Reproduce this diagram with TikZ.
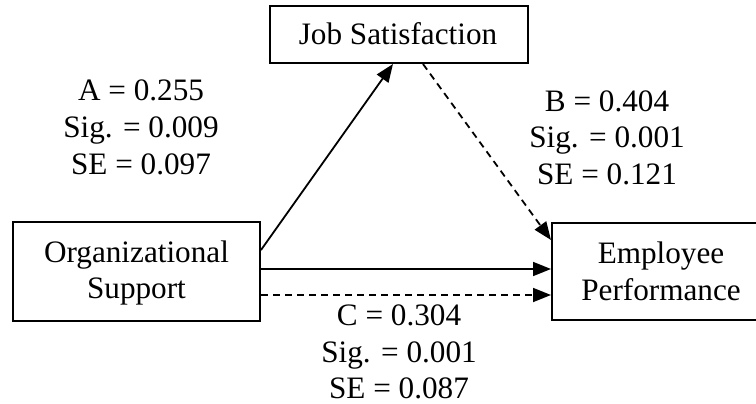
\documentclass[tikz,border=0pt]{standalone}
\usepackage{fontspec}
\setmainfont{Liberation Serif}
\usetikzlibrary{arrows.meta}
\begin{document}
\begin{tikzpicture}[x=1pt,y=-1pt,
  box/.style={draw,line width=2pt,inner sep=0pt},
  lbl/.style={anchor=base,inner sep=0pt},
  conn/.style={line width=1.8pt,-{Triangle[length=18pt,width=14pt]}},
  dconn/.style={conn,dash pattern=on 7pt off 5pt},
  every node/.style={font=\fontsize{31.2}{37}\selectfont}]
\useasboundingbox (0,0) rectangle (756,404);
% boxes
\node[box,minimum width=258pt,minimum height=57pt] (js) at (399,34.5) {};
\node[box,minimum width=247pt,minimum height=99pt] (os) at (136.5,271.5) {};
\node[box,minimum width=218pt,minimum height=97pt] (ep) at (661,271.5) {};
% box texts
\node[lbl] (jst) at (398,45) {Job Satisfaction};
\node[lbl] (ost1) at (136.5,262) {Organizational};
\node[lbl] (ost2) at (136.5,298) {Support};
\node[lbl] (ept1) at (661,263) {Employee};
\node[lbl] (ept2) at (661,300) {Performance};
% connectors
\draw[conn] ([yshift=21.5pt]os.east) -- ([xshift=-6pt]js.south);
\draw[dconn] ([xshift=24pt]js.south) -- ([yshift=31.5pt]ep.west);
\draw[conn] ([yshift=2.5pt]os.east) -- ([yshift=2.5pt]ep.west);
\draw[dconn] ([yshift=-23.5pt]os.east) -- ([yshift=-23.5pt]ep.west);
% labels
\node[lbl] (a1) at (141,101) {A = 0.255};
\node[lbl] (a2) at (141,138) {Sig. = 0.009};
\node[lbl] (a3) at (141,175) {SE = 0.097};
\node[lbl] (b1) at (607,111) {B = 0.404};
\node[lbl] (b2) at (607,147) {Sig. = 0.001};
\node[lbl] (b3) at (607,184) {SE = 0.121};
\node[lbl] (c1) at (399,325) {C = 0.304};
\node[lbl] (c2) at (399,362) {Sig. = 0.001};
\node[lbl] (c3) at (399,398) {SE = 0.087};
\end{tikzpicture}
\end{document}
